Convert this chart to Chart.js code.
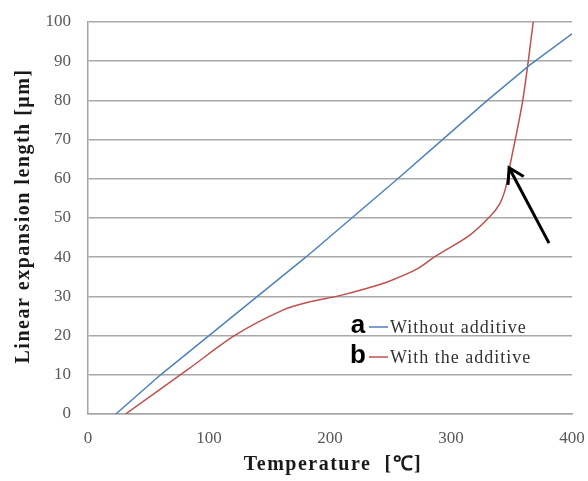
<!DOCTYPE html>
<html><head><meta charset="utf-8">
<script src="https://cdn.jsdelivr.net/npm/chart.js@4/dist/chart.umd.min.js"></script>
<style>html,body{margin:0;padding:0;background:#fff}#wrap{width:588px;height:481px}</style>
</head><body><div id="wrap"><canvas id="c" width="588" height="481"></canvas></div>
<script>
// ---- data ----
const xTicks = [0, 100, 200, 300, 400];
const yTicks = [0, 10, 20, 30, 40, 50, 60, 70, 80, 90, 100];
const seriesNames = ['Without additive', 'With the additive'];
const seriesLetters = ['a', 'b'];
const tempA = [23, 60, 100, 140, 180, 218, 256, 293, 330, 365, 400];
const lenA  = [0, 10, 20, 30, 40, 50, 60, 70, 80, 89, 97];
const tempB = [31, 84, 121, 161, 183, 208, 230, 250, 272, 286, 315, 332, 340, 345, 348.5, 359.3, 368];
const lenB  = [0, 11.7, 20, 26.5, 28.6, 30.2, 32, 34, 37, 40, 45.5, 50.3, 53.5, 57.5, 63, 80, 100];
const arrowTip = [348, 62.8];
const arrowTail = [381, 43.6];
const xTitle = 'Temperature  [\u2103]';
const yTitle = 'Linear expansion length [\u03bcm]';

const colors = ['#4F81BD', '#C0504D'];
const pts = (xs, ys) => xs.map((v, i) => ({x: v, y: ys[i]}));

const overlay = {
  id: 'overlay',
  afterDraw(chart) {
    const {ctx, scales: {x, y}} = chart;
    ctx.save();
    // arrow
    const tx = x.getPixelForValue(arrowTip[0]), ty = y.getPixelForValue(arrowTip[1]);
    const sx = x.getPixelForValue(arrowTail[0]), sy = y.getPixelForValue(arrowTail[1]);
    ctx.strokeStyle = '#000'; ctx.lineWidth = 3; ctx.lineCap = 'butt';
    ctx.beginPath(); ctx.moveTo(sx, sy); ctx.lineTo(tx, ty); ctx.stroke();
    const ang = Math.atan2(sy - ty, sx - tx);
    ctx.beginPath();
    ctx.moveTo(tx + 17 * Math.cos(ang - 0.55), ty + 17 * Math.sin(ang - 0.55));
    ctx.lineTo(tx, ty);
    ctx.lineTo(tx + 17 * Math.cos(ang + 0.55), ty + 17 * Math.sin(ang + 0.55));
    ctx.stroke();
    // legend
    const base = [333, 363];
    seriesNames.forEach((name, i) => {
      ctx.fillStyle = '#000';
      ctx.font = 'bold 26px "Liberation Sans", Arial, sans-serif';
      ctx.textAlign = 'center'; ctx.textBaseline = 'alphabetic';
      ctx.fillText(seriesLetters[i], 358, base[i]);
      ctx.strokeStyle = colors[i]; ctx.lineWidth = 1.5;
      ctx.beginPath(); ctx.moveTo(369, base[i] - 6); ctx.lineTo(388, base[i] - 6); ctx.stroke();
      ctx.fillStyle = '#333';
      ctx.font = '18px "Liberation Serif", "Times New Roman", serif';
      ctx.letterSpacing = '1px';
      ctx.textAlign = 'left';
      ctx.fillText(name, 390, base[i]);
      ctx.letterSpacing = '0px';
    });
    // axis titles
    ctx.fillStyle = '#1a1a1a';
    ctx.font = 'bold 20px "Liberation Serif", "Times New Roman", serif';
    ctx.letterSpacing = '1.5px';
    ctx.textAlign = 'center'; ctx.textBaseline = 'middle';
    ctx.fillText(xTitle, 333, 465);
    ctx.translate(24, 216); ctx.rotate(-Math.PI / 2);
    ctx.fillText(yTitle, 0, 0);
    ctx.restore();
  }
};

new Chart(document.getElementById('c'), {
  type: 'line',
  data: {
    datasets: [
      {label: seriesNames[0], data: pts(tempA, lenA), borderColor: colors[0], borderWidth: 1.5, pointRadius: 0, tension: 0},
      {label: seriesNames[1], data: pts(tempB, lenB), borderColor: colors[1], borderWidth: 1.5, pointRadius: 0, tension: 0.3}
    ]
  },
  options: {
    responsive: false, animation: false,
    layout: {padding: {left: 0, right: 16, top: 22, bottom: 0}},
    plugins: {legend: {display: false}, tooltip: {enabled: false}},
    scales: {
      x: {
        type: 'linear', min: 0, max: 400,
        afterBuildTicks: s => { s.ticks = xTicks.map(v => ({value: v})); },
        ticks: {font: {family: '"Liberation Serif", serif', size: 17}, color: '#595959', padding: 14, maxRotation: 0},
        grid: {display: false, drawTicks: false},
        border: {display: true, color: '#a6a6a6', width: 1.5},
        afterFit: s => { s.height = 67; s.paddingLeft = 0; s.paddingRight = 0; }
      },
      y: {
        type: 'linear', min: 0, max: 100,
        afterBuildTicks: s => { s.ticks = yTicks.map(v => ({value: v})); },
        ticks: {font: {family: '"Liberation Serif", serif', size: 17}, color: '#595959', padding: 17},
        grid: {color: '#a8a8a8', lineWidth: 1.5, drawTicks: false},
        border: {display: true, color: '#a6a6a6', width: 1.5},
        afterFit: s => { s.width = 88; s.paddingTop = 0; s.paddingBottom = 0; }
      }
    }
  },
  plugins: [overlay]
});
</script></body></html>
